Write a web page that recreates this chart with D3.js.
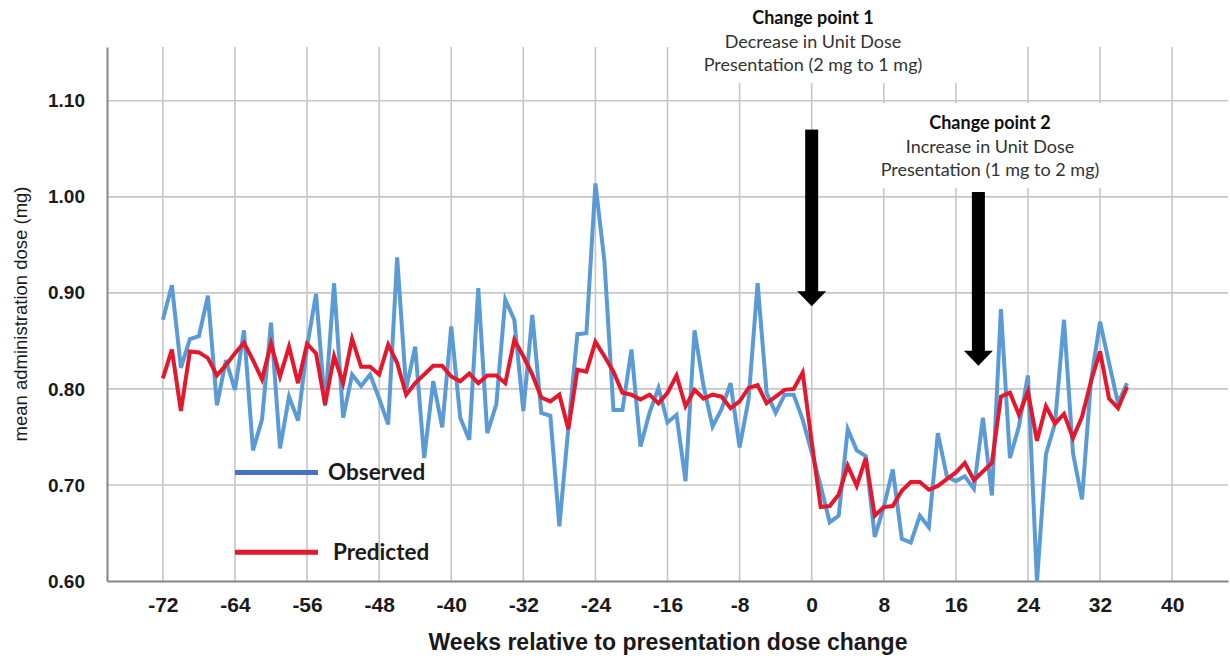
<!DOCTYPE html>
<html>
<head>
<meta charset="utf-8">
<script src="https://cdn.jsdelivr.net/npm/d3@7"></script>
<style>
  body { margin: 0; background: #fff; }
  svg { display: block; }
</style>
</head>
<body>
<div id="chart"></div>
<script>
// weeks relative to the presentation dose change
const weeks = d3.range(-72, 36);

const observed = [
  0.872, 0.908, 0.822, 0.852, 0.855, 0.897, 0.783, 0.830, 0.799, 0.861,
  0.736, 0.768, 0.869, 0.738, 0.792, 0.767, 0.844, 0.899, 0.782, 0.910,
  0.770, 0.815, 0.803, 0.815, 0.790, 0.763, 0.937, 0.800, 0.844, 0.728,
  0.808, 0.760, 0.865, 0.770, 0.747, 0.905, 0.754, 0.784, 0.893, 0.872,
  0.777, 0.877, 0.775, 0.772, 0.657, 0.760, 0.857, 0.858, 1.014, 0.933,
  0.778, 0.778, 0.841, 0.740, 0.775, 0.801, 0.765, 0.773, 0.704, 0.861,
  0.803, 0.761, 0.779, 0.806, 0.739, 0.789, 0.910, 0.796, 0.775, 0.794,
  0.794, 0.768, 0.734, 0.699, 0.661, 0.668, 0.758, 0.736, 0.730, 0.646,
  0.677, 0.716, 0.644, 0.640, 0.668, 0.656, 0.754, 0.709, 0.704, 0.709,
  0.696, 0.770, 0.689, 0.883, 0.728, 0.761, 0.814, 0.599, 0.732, 0.764,
  0.872, 0.733, 0.685, 0.809, 0.870, 0.827, 0.785, 0.806
];

const predicted = [
  0.811, 0.841, 0.777, 0.839, 0.838, 0.832, 0.814, 0.825, 0.837, 0.848,
  0.830, 0.810, 0.847, 0.813, 0.844, 0.806, 0.847, 0.837, 0.784, 0.834,
  0.806, 0.852, 0.823, 0.823, 0.815, 0.846, 0.827, 0.794, 0.806, 0.815,
  0.824, 0.824, 0.813, 0.808, 0.816, 0.806, 0.814, 0.814, 0.806, 0.851,
  0.834, 0.815, 0.791, 0.787, 0.794, 0.758, 0.820, 0.818, 0.849, 0.834,
  0.818, 0.796, 0.794, 0.789, 0.794, 0.785, 0.796, 0.814, 0.782, 0.799,
  0.790, 0.794, 0.792, 0.780, 0.787, 0.801, 0.804, 0.785, 0.792, 0.799,
  0.800, 0.817, 0.745, 0.677, 0.678, 0.690, 0.720, 0.699, 0.728, 0.668,
  0.677, 0.678, 0.694, 0.703, 0.703, 0.695, 0.699, 0.706, 0.713, 0.723,
  0.705, 0.714, 0.723, 0.792, 0.796, 0.773, 0.797, 0.746, 0.782, 0.764,
  0.774, 0.749, 0.771, 0.808, 0.839, 0.790, 0.780, 0.802
];

const xTicks = [-72, -64, -56, -48, -40, -32, -24, -16, -8, 0, 8, 16, 24, 32, 40];
const yTicks = [0.60, 0.70, 0.80, 0.90, 1.00, 1.10];

const changePoints = [
  { week: 0, top: 1.07, tip: 0.886, title: 'Change point 1',
    lines: ['Decrease in Unit Dose', 'Presentation (2 mg to 1 mg)'] },
  { week: 18.5, top: 1.005, tip: 0.824, title: 'Change point 2',
    lines: ['Increase in Unit Dose', 'Presentation (1 mg to 2 mg)'] }
];

const width = 1230;
const height = 658;
const margin = { left: 107, right: 2, top: 47, bottom: 77 };

const svg = d3.select('#chart').append('svg')
  .attr('width', width)
  .attr('height', height);

const x = d3.scaleLinear()
  .domain([-78.2, 46.2])
  .range([margin.left, width - margin.right]);

const y = d3.scaleLinear()
  .domain([0.60, 1.156])
  .range([height - margin.bottom, margin.top]);

// grid
const grid = svg.append('g').attr('class', 'grid');
grid.selectAll('.vgrid')
  .data(xTicks)
  .enter().append('line')
  .attr('x1', d => x(d)).attr('x2', d => x(d))
  .attr('y1', y.range()[1]).attr('y2', y.range()[0])
  .attr('stroke', '#c6c6c6').attr('stroke-width', 1.6);
grid.selectAll('.hgrid')
  .data(yTicks.slice(1))
  .enter().append('line')
  .attr('x1', x.range()[0]).attr('x2', x.range()[1])
  .attr('y1', d => y(d)).attr('y2', d => y(d))
  .attr('stroke', '#c6c6c6').attr('stroke-width', 1.6);

// white boxes behind the annotations cover the grid
svg.append('rect').attr('x', 700).attr('y', 0).attr('width', 290).attr('height', 83).attr('fill', '#fff');
svg.append('rect').attr('x', 866).attr('y', 103).attr('width', 250).attr('height', 85).attr('fill', '#fff');

// axes
const xAxis = d3.axisBottom(x).tickValues(xTicks).tickSize(0).tickPadding(16)
  .tickFormat(d => String(d));
const yAxis = d3.axisLeft(y).tickValues(yTicks).tickFormat(d3.format('.2f')).tickSize(0).tickPadding(22);

const gx = svg.append('g')
  .attr('transform', `translate(0,${y(0.60)})`)
  .call(xAxis);
gx.select('.domain').attr('stroke', '#8a8580').attr('stroke-width', 2);
gx.selectAll('text')
  .attr('font-family', '"Liberation Sans Narrow", "Liberation Sans", Arial, sans-serif')
  .attr('font-weight', 'bold')
  .attr('font-size', '21px')
  .attr('fill', '#1a1a1a');

const gy = svg.append('g')
  .attr('transform', `translate(${x.range()[0]},0)`)
  .call(yAxis);
gy.select('.domain').attr('stroke', '#8a8580').attr('stroke-width', 2);
gy.selectAll('text')
  .attr('font-family', '"Liberation Sans", Arial, sans-serif')
  .attr('font-weight', 'bold')
  .attr('font-size', '19px')
  .attr('fill', '#1a1a1a');

// axis titles
svg.append('text')
  .attr('x', 668).attr('y', 650)
  .attr('text-anchor', 'middle')
  .attr('font-family', '"Liberation Sans", Arial, sans-serif')
  .attr('font-weight', 'bold')
  .attr('font-size', '23px')
  .attr('fill', '#1a1a1a')
  .text('Weeks relative to presentation dose change');

svg.append('text')
  .attr('transform', 'translate(27,314) rotate(-90)')
  .attr('text-anchor', 'middle')
  .attr('font-family', '"Liberation Sans", Arial, sans-serif')
  .attr('font-size', '18.5px')
  .attr('fill', '#1a1a1a')
  .text('mean administration dose (mg)');

// lines
const line = d3.line()
  .x((d, i) => x(weeks[i]))
  .y(d => y(d));

svg.append('path')
  .datum(observed)
  .attr('d', line)
  .attr('fill', 'none')
  .attr('stroke', '#5b9bd5')
  .attr('stroke-width', 4)
  .attr('stroke-linejoin', 'miter');

svg.append('path')
  .datum(predicted)
  .attr('d', line)
  .attr('fill', 'none')
  .attr('stroke', '#e3182d')
  .attr('stroke-width', 4)
  .attr('stroke-linejoin', 'miter');

// legend
const legend = [
  { label: 'Observed', color: '#4472c4', value: 0.713 },
  { label: 'Predicted', color: '#e3182d', value: 0.630 }
];
const lg = svg.append('g').attr('class', 'legend');
lg.selectAll('line')
  .data(legend)
  .enter().append('line')
  .attr('x1', 235).attr('x2', 318)
  .attr('y1', d => y(d.value)).attr('y2', d => y(d.value))
  .attr('stroke', d => d.color)
  .attr('stroke-width', 5);
lg.selectAll('text')
  .data(legend)
  .enter().append('text')
  .attr('x', (d, i) => 328 + i * 5)
  .attr('y', d => y(d.value) + 8)
  .attr('font-family', 'Lato, "Open Sans", sans-serif')
  .attr('font-weight', 'bold')
  .attr('font-size', '22.5px')
  .attr('fill', '#1a1a1a')
  .text(d => d.label);

// change point arrows
const arrows = svg.append('g').attr('class', 'arrows');
changePoints.forEach(cp => {
  const cx = x(cp.week);
  const yTop = y(cp.top);
  const tip = y(cp.tip);
  const headH = 15;
  arrows.append('rect')
    .attr('x', cx - 6.5).attr('y', yTop)
    .attr('width', 13).attr('height', tip - headH - yTop + 1)
    .attr('fill', '#000');
  arrows.append('path')
    .attr('d', `M${cx - 14.5},${tip - headH} L${cx + 14.5},${tip - headH} L${cx},${tip} Z`)
    .attr('fill', '#000');
});

// annotation texts
const notes = [
  { cx: 813, y0: 24, cp: changePoints[0] },
  { cx: 990, y0: 129, cp: changePoints[1] }
];
notes.forEach(n => {
  const t = svg.append('g')
    .attr('font-family', 'Lato, "Open Sans", sans-serif')
    .attr('text-anchor', 'middle')
    .attr('fill', '#333');
  t.append('text')
    .attr('x', n.cx).attr('y', n.y0)
    .attr('font-weight', 'bold')
    .attr('font-size', '18px')
    .attr('fill', '#111')
    .text(n.cp.title);
  n.cp.lines.forEach((s, k) => {
    t.append('text')
      .attr('x', n.cx).attr('y', n.y0 + 24 + k * 23)
      .attr('font-size', '18px')
      .text(s);
  });
});
</script>
</body>
</html>
